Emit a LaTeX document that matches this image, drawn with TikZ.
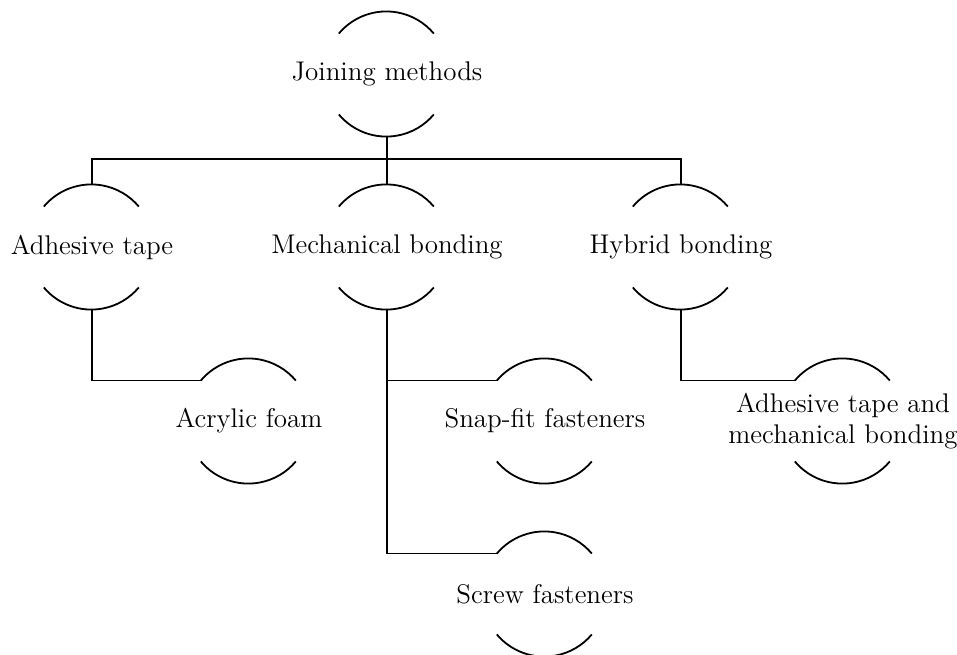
\documentclass[tikz,border=0pt]{standalone}
\usepackage{tikz}
\usetikzlibrary{calc}
\usetikzlibrary{positioning}

\tikzset{
    ring/.style={circle, minimum size=62pt, inner sep=0pt},
}

\begin{document}
\begin{tikzpicture}[x=0.5pt, y=-0.5pt, line width=0.9pt, font=\fontsize{13.5}{15.5}\selectfont]
    \useasboundingbox (0,0) rectangle (957,654);
    % 根节点
    \node[ring, label=center:{Joining methods}] (root) at (387,74) {};
    % 第二层
    \node[ring, label=center:{Adhesive tape}] (tape) at (92,247) {};
    \node[ring, label=center:{Mechanical bonding}] (mech) at (387,247) {};
    \node[ring, label=center:{Hybrid bonding}] (hyb) at (681,247) {};
    % 第三层
    \node[ring, label=center:{Acrylic foam}] (foam) at (249,421) {};
    \node[ring, label=center:{Snap-fit fasteners}] (snap) at (545,421) {};
    \node[ring, label=center:{Screw fasteners}] (screw) at (545,594) {};
    \node[ring, label={[align=center]center:{Adhesive tape and\\mechanical bonding}}] (both) at (843,421) {};
    % 上下圆弧
    \foreach \n in {root,tape,mech,hyb,foam,snap,screw,both} {
        \draw (\n.140) arc[start angle=140, end angle=40, radius=31pt];
        \draw (\n.220) arc[start angle=220, end angle=320, radius=31pt];
    }
    % 连线
    \coordinate (bar) at (387,159);
    \draw (root.south) -- (mech.north);
    \draw (tape.north) |- (bar) -| (hyb.north);
    \draw (tape.south) |- (foam.140);
    \draw (mech.south) |- (snap.140);
    \draw (mech.south) |- (screw.140);
    \draw (hyb.south) |- (both.140);
\end{tikzpicture}
\end{document}
